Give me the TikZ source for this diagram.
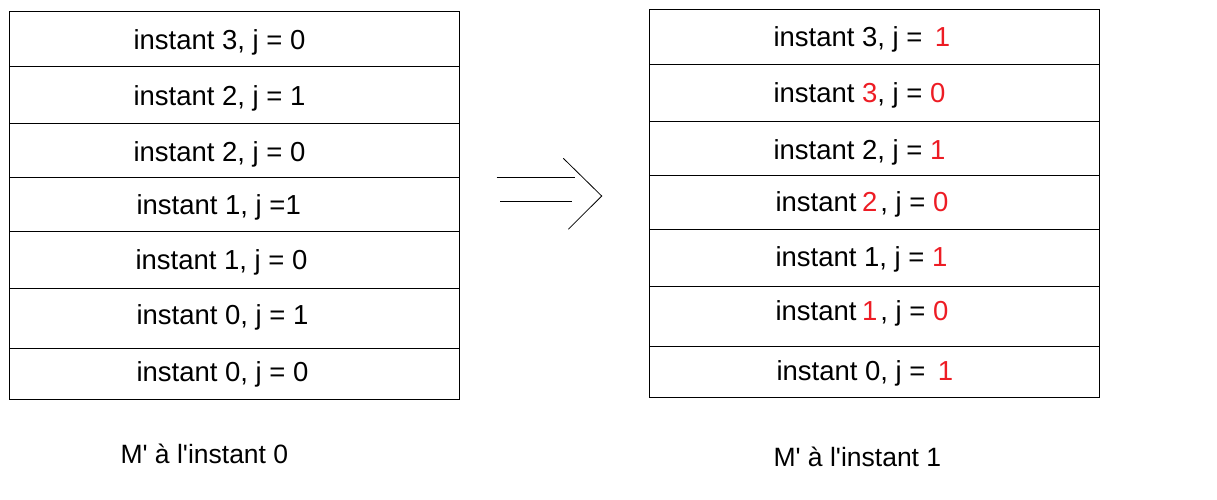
\documentclass[tikz,border=0pt]{standalone}
\usepackage{fontspec}
\setmainfont{Liberation Sans}
\definecolor{hired}{RGB}{237,28,36}
\begin{document}
\begin{tikzpicture}[x=1pt,y=-1pt, line width=1pt,
  cell/.style={anchor=base west, inner sep=0pt, font=\fontsize{27.5}{33}\selectfont},
  caption/.style={anchor=base west, inner sep=0pt, font=\fontsize{26.5}{32}\selectfont},
  box/.style={draw, line width=1pt}]
\useasboundingbox (0,0) rectangle (1217,499);
% left column
\draw[box] (9.5,11.5) rectangle (459.5,399.5);
\foreach \y in {66.5,123.5,177.5,231.5,288.5,348.5} \draw (9.5,\y) -- (459.5,\y);
\node[cell] (l1) at (133,49.3) {instant 3, j = 0};
\node[cell] (l2) at (133,105) {instant 2, j = 1};
\node[cell] (l3) at (133,161.7) {instant 2, j = 0};
\node[cell] (l4) at (136,214.3) {instant 1, j =1};
\node[cell] (l5) at (135,269.3) {instant 1, j = 0};
\node[cell] (l6) at (136,324.3) {instant 0, j = 1};
\node[cell] (l7) at (136,381.7) {instant 0, j = 0};
% right column
\draw[box] (649.5,9.5) rectangle (1099.5,397.5);
\foreach \y in {64.5,121.5,175.5,229.5,286.5,346.5} \draw (649.5,\y) -- (1099.5,\y);
\node[cell] (r1) at (773,46.7) {instant 3, j = \,\textcolor{hired}{1}};
\node[cell] (r2) at (773,102.7) {instant \textcolor{hired}{3}, j = \textcolor{hired}{0}};
\node[cell] (r3) at (773,159.3) {instant 2, j = \textcolor{hired}{1}};
\node[cell] (r4) at (775,211.5) {instant\hspace{5.5pt}\textcolor{hired}{2}\hspace{3pt}, j = \textcolor{hired}{0}};
\node[cell] (r5) at (775,266.7) {instant 1, j = \textcolor{hired}{1}};
\node[cell] (r6) at (775,320.7) {instant\hspace{5.5pt}\textcolor{hired}{1}\hspace{3pt}, j = \textcolor{hired}{0}};
\node[cell] (r7) at (776,380) {instant 0, j = \,\textcolor{hired}{1}};
% arrow
\coordinate (a1) at (496.7,177.5);
\coordinate (a2) at (575,177.5);
\coordinate (b1) at (500,201.5);
\coordinate (b2) at (571.7,201.5);
\coordinate (c1) at (563.3,158.3);
\coordinate (tip) at (601.7,196);
\coordinate (c2) at (568.3,229.3);
\draw (a1) -- (a2);
\draw (b1) -- (b2);
\draw[line width=0.8pt] (c1) -- (tip) -- (c2);
% captions
\node[caption] (cap0) at (120,463) {M\textquotesingle{} à l\textquotesingle instant 0};
\node[caption] (cap1) at (773,466) {M\textquotesingle{} à l\textquotesingle instant 1};
\end{tikzpicture}
\end{document}
